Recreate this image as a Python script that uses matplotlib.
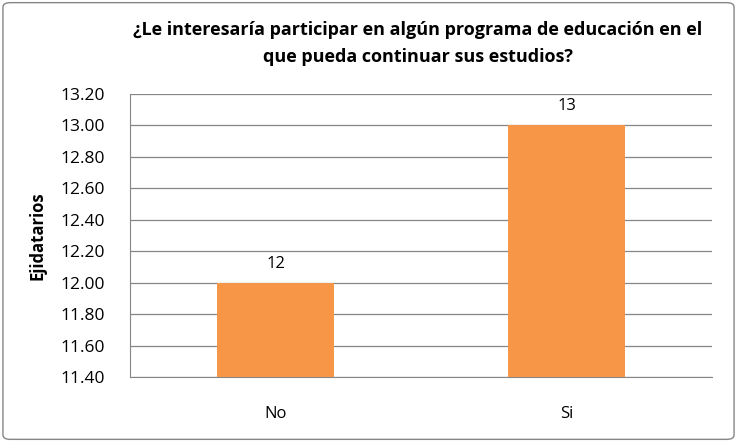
import matplotlib
matplotlib.use("Agg")
import matplotlib.pyplot as plt
from matplotlib.patches import FancyBboxPatch

categories = ["No", "Si"]
values = [12, 13]
yticks = [11.40, 11.60, 11.80, 12.00, 12.20, 12.40, 12.60, 12.80, 13.00, 13.20]

plt.rcParams['font.family'] = ['Liberation Sans Narrow', 'Open Sans', 'DejaVu Sans']

fig = plt.figure(figsize=(7.37, 4.42), dpi=100)
ax = fig.add_axes([130/737, 1-377/442, (712-130)/737, (377-94)/442])

x = range(len(categories))
bars = ax.bar(x, values, width=0.4, color="#F79646", zorder=3)
ax.set_xlim(-0.5, 1.5)
ax.set_ylim(11.4, 13.2)
ax.set_yticks(yticks)
ax.set_yticklabels([f"{v:.2f}" for v in yticks], fontsize=12.5)
ax.set_xticks(list(x))
ax.set_xticklabels(categories, fontsize=12)
ax.tick_params(axis='x', length=0, pad=21)
ax.tick_params(axis='y', length=0, pad=18)
ax.grid(axis='y', color="#868686", linewidth=0.9, zorder=0)
for s in ["top", "right"]:
    ax.spines[s].set_visible(False)
for s in ["left", "bottom"]:
    ax.spines[s].set_color("#868686")
for b, v in zip(bars, values):
    ax.annotate(str(v), (b.get_x() + b.get_width()/2, v), xytext=(0, 8),
                textcoords="offset points", ha="center", va="bottom", fontsize=12)
ax.set_ylabel("Ejidatarios", fontsize=12, fontweight="bold", labelpad=10)

fig.text(418/737, 1-30/442, "¿Le interesaría participar en algún programa de educación en el",
         ha="center", va="center", fontsize=13, fontweight="bold")
fig.text(418/737, 1-57/442, "que pueda continuar sus estudios?",
         ha="center", va="center", fontsize=13, fontweight="bold")

border = FancyBboxPatch((0.004, 0.006), 0.992, 0.988, boxstyle="round,pad=0,rounding_size=0.01",
                        transform=fig.transFigure, fill=False, edgecolor="#868686", linewidth=1.0)
fig.patches.append(border)

fig.savefig("out.png", dpi=100)
